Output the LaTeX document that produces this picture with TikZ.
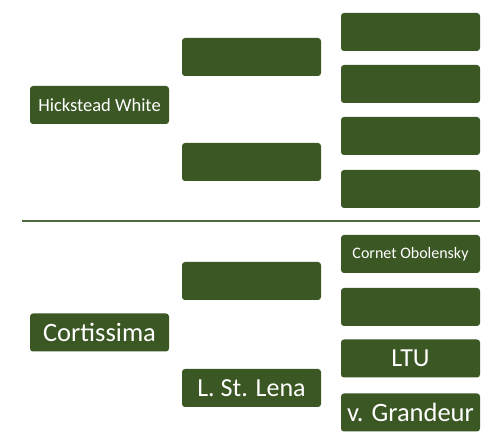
\documentclass[tikz,border=0pt]{standalone}
\usepackage{fontspec}
\setmainfont{Carlito}
\definecolor{boxgreen}{HTML}{3B5724}
\definecolor{linegreen}{HTML}{4C6B3A}
\begin{document}
\begin{tikzpicture}[x=1pt,y=1pt,
  box/.style={fill=boxgreen, rounded corners=3pt, minimum width=139pt, minimum height=38pt, inner sep=0pt, text=white},
  fs/.style={font=\fontsize{#1}{#1}\selectfont}]
\useasboundingbox (0,0) rectangle (493,443);
% top section
\node[box, fs=18.5] (hw) at (99.5,338) {Hickstead White};
\node[box] (tm1) at (251.5,386) {};
\node[box] (tm2) at (251.5,281) {};
\node[box] (tr1) at (410.5,411) {};
\node[box] (tr2) at (410.5,359) {};
\node[box] (tr3) at (410.5,307) {};
\node[box] (tr4) at (410.5,254) {};
% divider
\coordinate (l1) at (22,222);
\coordinate (l2) at (480,222);
\draw[linegreen, line width=2pt] (l1) -- (l2);
% bottom section
\node[box, fs=26.5] (co) at (99.5,110.5) {Cortissima};
\node[box] (bm1) at (251.5,162) {};
\node[box, fs=26] (bm2) at (251.5,55) {L. St. Lena};
\node[box, fs=16] (br1) at (410.5,189) {Cornet Obolensky};
\node[box] (br2) at (410.5,136) {};
\node[box, fs=26] (br3) at (410.5,84.5) {LTU};
\node[box, fs=26.5] (br4) at (410.5,30.5) {v. Grandeur};
\end{tikzpicture}
\end{document}
